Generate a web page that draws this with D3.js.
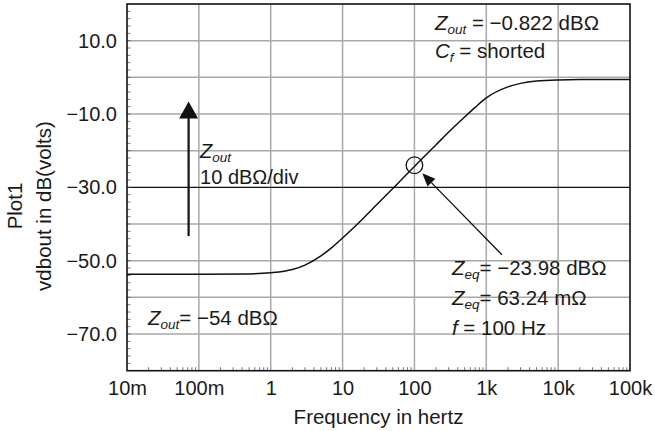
<!DOCTYPE html>
<html>
<head>
<meta charset="utf-8">
<script src="https://cdn.jsdelivr.net/npm/d3@7"></script>
<style>
  body { margin: 0; background: #fff; }
  text { font-family: "Liberation Sans", Arial, sans-serif; fill: #1a1a1a; }
</style>
</head>
<body>
<div id="chart"></div>
<script>
// values
var freqHz = [0.01, 0.1, 0.5, 1, 2, 3, 5, 7, 10, 20, 30, 50, 70, 100, 200, 300, 500, 700,
              1000, 2000, 3000, 5000, 10000, 20000, 100000];
var zoutDb = [-53.7, -53.7, -53.6, -53.3, -52.4, -51.2, -48.7, -46.5, -43.8, -38.2, -34.7, -30.3, -27.4, -24.3,
              -18.4, -14.9, -10.8, -8.2, -5.6, -2.6, -1.65, -1.0, -0.7, -0.62, -0.6];

var xTicks = [0.01, 0.1, 1, 10, 100, 1000, 10000, 100000];
var xTickLabels = ["10m", "100m", "1", "10", "100", "1k", "10k", "100k"];
var yTicks = [10, -10, -30, -50, -70];

var svgWidth = 655;
var svgHeight = 431;
var margin = {t: 4, r: 25, b: 60.3, l: 127};
var width = svgWidth - margin.l - margin.r;
var height = svgHeight - margin.t - margin.b;

var svg = d3.select("#chart")
    .append("svg")
    .attr("width", svgWidth)
    .attr("height", svgHeight);

var chartGroup = svg.append("g")
    .attr("transform", `translate(${margin.l}, ${margin.t})`);

var x = d3.scaleLog().domain([0.01, 100000]).range([0, width]);
var y = d3.scaleLinear().domain([-80, 20]).range([height, 0]);

// grid
var gridColor = "#a8a8a8";
chartGroup.selectAll(".vgrid")
    .data(xTicks.slice(1, -1))
    .enter().append("line")
    .attr("x1", d => x(d)).attr("x2", d => x(d))
    .attr("y1", 0).attr("y2", height)
    .attr("stroke", gridColor).attr("stroke-width", 1.5);

chartGroup.selectAll(".hgrid")
    .data(d3.range(-70, 20, 10).filter(d => d != -30))
    .enter().append("line")
    .attr("x1", 0).attr("x2", width)
    .attr("y1", d => y(d)).attr("y2", d => y(d))
    .attr("stroke", gridColor).attr("stroke-width", 1.5);

// reference line at -30
chartGroup.append("line")
    .attr("x1", 0).attr("x2", width)
    .attr("y1", y(-30)).attr("y2", y(-30))
    .attr("stroke", "#111").attr("stroke-width", 1.3);

// minor ticks inside the frame
chartGroup.selectAll(".ytick")
    .data(d3.range(-78, 20, 2))
    .enter().append("line")
    .attr("x1", 0).attr("x2", 3.5)
    .attr("y1", d => y(d)).attr("y2", d => y(d))
    .attr("stroke", "#555").attr("stroke-width", 0.8);

var minorX = [];
xTicks.slice(0, -1).forEach(function(dec) {
    for (var k = 2; k <= 9; k++) minorX.push(dec * k);
});
chartGroup.selectAll(".xtick")
    .data(minorX)
    .enter().append("line")
    .attr("x1", d => x(d)).attr("x2", d => x(d))
    .attr("y1", height).attr("y2", height - 3.5)
    .attr("stroke", "#555").attr("stroke-width", 0.8);

// curve
var line = d3.line()
    .x((d, i) => x(freqHz[i]))
    .y(d => y(d))
    .curve(d3.curveMonotoneX);

chartGroup.append("path")
    .datum(zoutDb)
    .attr("d", line)
    .attr("fill", "none")
    .attr("stroke", "#111")
    .attr("stroke-width", 1.5);

// frame
chartGroup.append("rect")
    .attr("width", width).attr("height", height)
    .attr("fill", "none")
    .attr("stroke", "#111").attr("stroke-width", 1.6);

// axes labels
var leftAxis = d3.axisLeft(y)
    .tickValues(yTicks)
    .tickFormat(d3.format(".1f"))
    .tickSize(0)
    .tickPadding(10);
var yAxisG = chartGroup.append("g").call(leftAxis);
yAxisG.select(".domain").remove();
yAxisG.selectAll("text")
    .style("font-size", "20px")
    .attr("fill", "#1a1a1a");

var bottomAxis = d3.axisBottom(x)
    .tickValues(xTicks)
    .tickFormat((d, i) => xTickLabels[i])
    .tickSize(0)
    .tickPadding(10);
var xAxisG = chartGroup.append("g")
    .attr("transform", `translate(0, ${height})`)
    .call(bottomAxis);
xAxisG.select(".domain").remove();
xAxisG.selectAll("text")
    .style("font-size", "20px")
    .attr("fill", "#1a1a1a");

chartGroup.append("text")
    .attr("x", width / 2)
    .attr("y", height + 53)
    .attr("text-anchor", "middle")
    .style("font-size", "20.5px")
    .text("Frequency in hertz");

var yTitle = svg.append("text")
    .attr("transform", "translate(0, 206) rotate(-90)")
    .attr("text-anchor", "middle")
    .style("font-size", "20.5px");
yTitle.append("tspan").attr("x", 0).attr("y", 22).text("Plot1");
yTitle.append("tspan").attr("x", 0).attr("y", 51).text("vdbout in dB(volts)");

// annotations
function subLabel(xp, yp, main, sub, rest, size) {
    size = size || 20.5;
    var t = chartGroup.append("text")
        .attr("x", xp).attr("y", yp)
        .style("font-size", size + "px");
    t.append("tspan").style("font-style", "italic").text(main);
    t.append("tspan").style("font-style", "italic").style("font-size", "13.5px")
        .attr("dy", 4).text(sub);
    t.append("tspan").attr("dy", -4).text(rest);
    return t;
}

subLabel(x(0.104), y(-22.13), "Z", "out", "", 20);
chartGroup.append("text")
    .attr("x", x(0.104)).attr("y", y(-29.09))
    .style("font-size", "20px")
    .text("10 dBΩ/div");

subLabel(x(193), y(12.9), "Z", "out", " = −0.822 dBΩ");
subLabel(x(193), y(5.3), "C", "f", " = shorted");

subLabel(x(0.0196), y(-67.5), "Z", "out", "= −54 dBΩ");

subLabel(x(333), y(-53.9), "Z", "eq", "= −23.98 dBΩ");
subLabel(x(333), y(-62.1), "Z", "eq", "= 63.24 mΩ");
var fText = chartGroup.append("text")
    .attr("x", x(333)).attr("y", y(-70.3))
    .style("font-size", "20.5px");
fText.append("tspan").style("font-style", "italic").text("f");
fText.append("tspan").text(" = 100 Hz");

// up arrow
var ax = x(0.072);
chartGroup.append("line")
    .attr("x1", ax).attr("x2", ax)
    .attr("y1", y(-43.3)).attr("y2", y(-10))
    .attr("stroke", "#111").attr("stroke-width", 2.2);
chartGroup.append("path")
    .attr("d", `M${ax},${y(-6.6)} L${ax - 9.5},${y(-11.2)} L${ax + 9.5},${y(-11.2)} Z`)
    .attr("fill", "#111");

// marker circle at 100 Hz
var cx = x(100), cy = y(-23.98), r = 8.3;
chartGroup.append("circle")
    .attr("cx", cx).attr("cy", cy).attr("r", r)
    .attr("fill", "none").attr("stroke", "#111").attr("stroke-width", 1.3);

// pointer arrow to the circle
var tx = x(1650), ty = y(-48.4);
var dx = tx - cx, dy = ty - cy, len = Math.sqrt(dx * dx + dy * dy);
var ux = dx / len, uy = dy / len;
var tipX = cx + ux * (r + 3), tipY = cy + uy * (r + 3);
var baseX = tipX + ux * 13, baseY = tipY + uy * 13;
chartGroup.append("line")
    .attr("x1", baseX).attr("y1", baseY)
    .attr("x2", tx).attr("y2", ty)
    .attr("stroke", "#111").attr("stroke-width", 1.3);
chartGroup.append("path")
    .attr("d", `M${tipX},${tipY} L${baseX - uy * 5.5},${baseY + ux * 5.5} L${baseX + uy * 5.5},${baseY - ux * 5.5} Z`)
    .attr("fill", "#111");
</script>
</body>
</html>
